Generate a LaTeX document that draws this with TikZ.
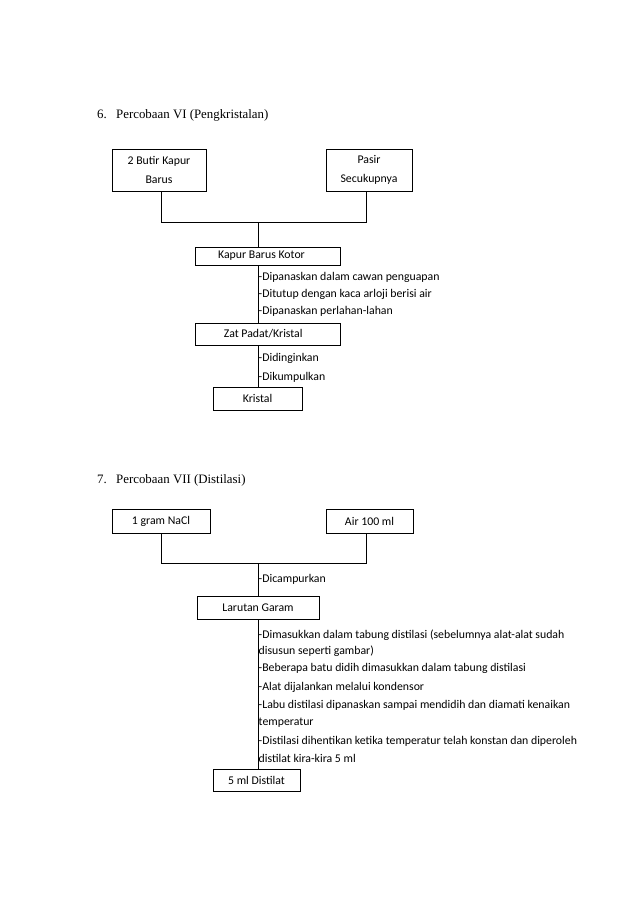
\documentclass[tikz,border=0pt]{standalone}
\usepackage{fontspec}
\setmainfont{Liberation Serif}
\newfontfamily\boxfont{Carlito}
\begin{document}
\begin{tikzpicture}[x=0.9326pt,y=-0.9326pt,
  bw/.style={minimum width={#1*0.9326pt}},
  bh/.style={minimum height={#1*0.9326pt}},
  box/.style={draw,line width=0.8pt,inner sep=0pt,align=center,font=\boxfont\fontsize{11}{17.5}\selectfont},
  note/.style={anchor=west,inner sep=0pt,font=\boxfont\fontsize{11}{16.5}\selectfont},
  title/.style={anchor=west,inner sep=0pt,font=\fontsize{12}{14}\selectfont},
  line/.style={line width=0.8pt}]
\useasboundingbox[fill=white] (0,0) rectangle (638,903);

% ---------- Section 6 ----------
\node[title] (t6) at (97,115) {\makebox[17.7pt][l]{6.}Percobaan VI (Pengkristalan)};

\node[box,bw=94,bh=42] (b1) at (159,170) {2 Butir Kapur\\Barus};
\node[box,bw=86,bh=42] (b2) at (369,170) {Pasir\\Secukupnya};
\coordinate (j6l) at (161,222);
\coordinate (j6r) at (366,222);
\coordinate (j6m) at (258,222);
\node[box,bw=145,bh=18] (kbk) at (267.5,256) {\hspace*{-14\pgflinewidth}Kapur Barus Kotor};
\node[box,bw=145,bh=22] (zat) at (267.5,334) {\hspace*{-10\pgflinewidth}Zat Padat/Kristal};
\node[box,bw=89,bh=23] (kri) at (257.5,398.5) {Kristal};

\draw[line] (b1.south -| j6l) -- (j6l) -- (j6r) -- (b2.south -| j6r);
\draw[line] (j6m) -- (kbk.north -| j6m);
\draw[line] (kbk.south -| j6m) -- (zat.north -| j6m);
\draw[line] (zat.south -| j6m) -- (kri.north -| j6m);

\node[note] (n61) at (258.5,277) {-Dipanaskan dalam cawan penguapan};
\node[note] (n62) at (258.5,294) {-Ditutup dengan kaca arloji berisi air};
\node[note] (n63) at (258.5,311) {-Dipanaskan perlahan-lahan};
\node[note] (n64) at (258.5,358) {-Didinginkan};
\node[note] (n65) at (258.5,377) {-Dikumpulkan};

% ---------- Section 7 ----------
\node[title] (t7) at (97,480) {\makebox[17.7pt][l]{7.}Percobaan VII (Distilasi)};

\node[box,bw=98,bh=24] (c1) at (161,521) {1 gram NaCl};
\node[box,bw=87,bh=24] (c2) at (369.5,521) {Air 100 ml};
\coordinate (j7l) at (161,563);
\coordinate (j7r) at (366,563);
\coordinate (j7m) at (258,563);
\node[box,bw=122,bh=23] (lg) at (258,607.5) {Larutan Garam};
\node[box,bw=87,bh=22] (dis) at (256.5,780) {5 ml Distilat};

\draw[line] (c1.south -| j7l) -- (j7l) -- (j7r) -- (c2.south -| j7r);
\draw[line] (j7m) -- (lg.north -| j7m);
\draw[line] (lg.south -| j7m) -- (dis.north -| j7m);

\node[note] (n71) at (258.5,579) {-Dicampurkan};
\node[note] (n72) at (258.5,635) {-Dimasukkan dalam tabung distilasi (sebelumnya alat-alat sudah};
\node[note] (n73) at (258.5,651) {disusun seperti gambar)};
\node[note] (n74) at (258.5,668) {-Beberapa batu didih dimasukkan dalam tabung distilasi};
\node[note] (n75) at (258.5,687) {-Alat dijalankan melalui kondensor};
\node[note] (n76) at (258.5,705) {-Labu distilasi dipanaskan sampai mendidih dan diamati kenaikan};
\node[note] (n77) at (258.5,723) {temperatur};
\node[note] (n78) at (258.5,741) {-Distilasi dihentikan ketika temperatur telah konstan dan diperoleh};
\node[note] (n79) at (258.5,758) {distilat kira-kira 5 ml};
\end{tikzpicture}
\end{document}
